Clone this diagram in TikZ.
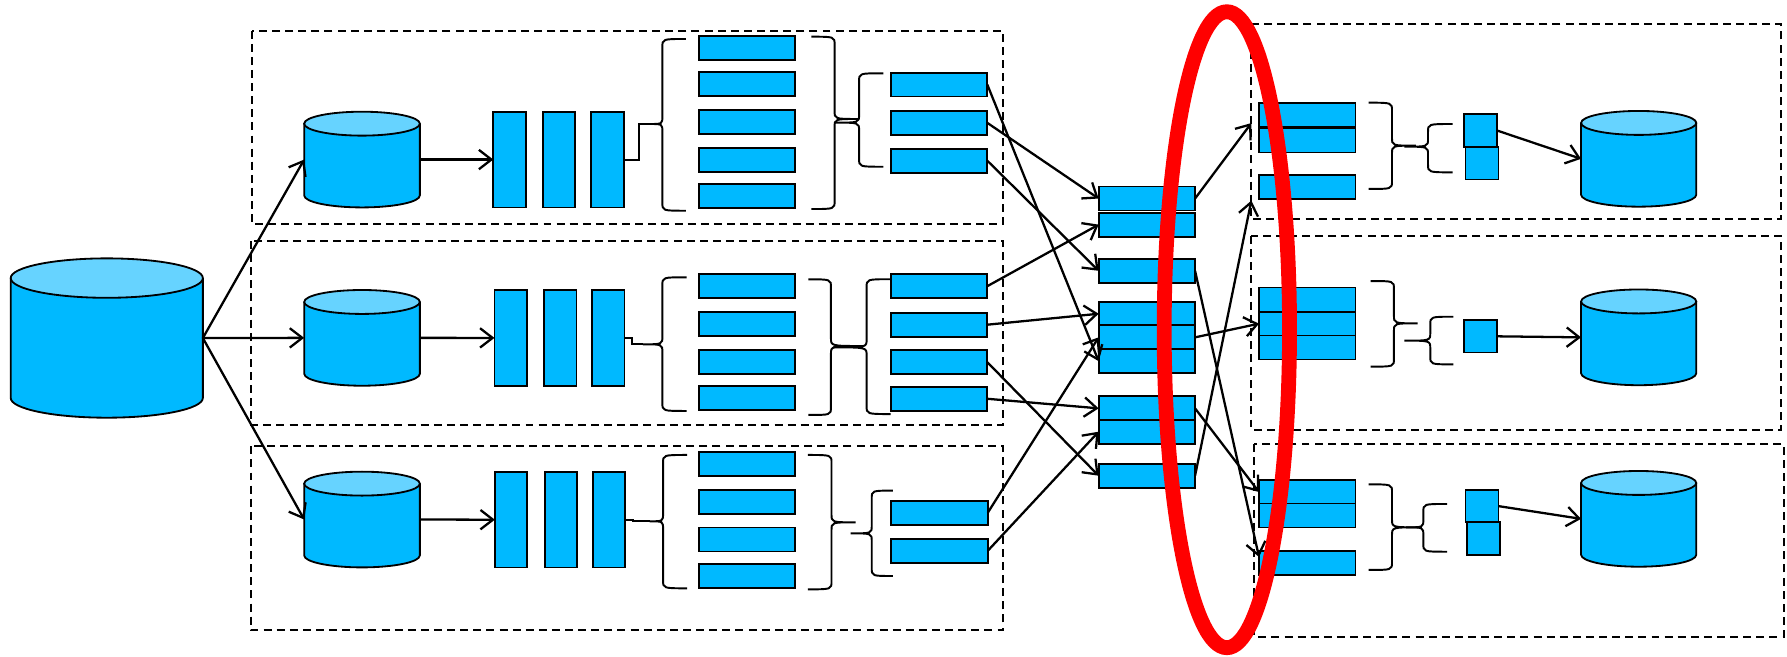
\documentclass[tikz,border=0pt]{standalone}
\usetikzlibrary{arrows.meta,calc}
\definecolor{boxc}{HTML}{00B9FF}
\definecolor{topc}{HTML}{66D3FF}
\definecolor{redc}{HTML}{FF0000}
\tikzset{
 blk/.style={draw=black, fill=boxc, line width=1.6pt, inner sep=0pt, outer sep=0pt, rectangle},
 hbox/.style={blk, minimum width=84.6pt, minimum height=21pt},
 vbar/.style={blk, minimum width=28.5pt, minimum height=84pt},
 sqr/.style={blk, minimum width=29pt, minimum height=28.5pt},
 frame/.style={draw=black, line width=1.6pt, dash pattern=on 7pt off 4.5pt},
 arr/.style={draw=black, line width=2pt, -{Straight Barb[length=11pt,width=17pt]}},
 conn/.style={draw=black, line width=1.8pt},
 brc/.style={draw=black, line width=1.7pt},
 cylspace/.style={rectangle, draw=none, inner sep=0pt, outer sep=0pt},
}
% name, cx, cy, rx, half height, ry
\newcommand\Cyl[6]{%
 \node[cylspace, minimum width={2*#4pt}, minimum height={2*#5pt}] (#1) at (#2,#3) {};
 \path[fill=boxc, draw=black, line width=1.6pt] ({#2-#4},{#3-#5+#6}) -- ({#2-#4},{#3+#5-#6})
   arc[start angle=180, end angle=360, x radius=#4pt, y radius=#6pt] -- ({#2+#4},{#3-#5+#6});
 \path[fill=topc, draw=black, line width=1.6pt] (#2,{#3-#5+#6}) ellipse[x radius=#4pt, y radius=#6pt];
}
% spine x, end x, top, bottom, tip x, tip y
\newcommand\Brc[6]{%
 \draw[brc] (#2,#3) .. controls (#1,#3) .. (#1,{#3+7}) -- (#1,{#6-7}) .. controls (#1,#6) .. (#5,#6)
   .. controls (#1,#6) .. (#1,{#6+7}) -- (#1,{#4-7}) .. controls (#1,#4) .. (#2,#4);
}
\begin{document}
\begin{tikzpicture}[x=1pt,y=-1pt]
\useasboundingbox (0,0) rectangle (1568,576);
% dashed frames
\draw[frame] (221.3,26.9) rectangle (880.1,196.8);
\draw[frame] (220,211.5) rectangle (880.1,372.9);
\draw[frame] (220,391.6) rectangle (880.1,552.8);
\draw[frame] (1097.9,21.4) rectangle (1563,192.2);
\draw[frame] (1097.9,207.1) rectangle (1563,377.3);
\draw[frame] (1100.6,389.6) rectangle (1565.3,558.6);

% cylinders
\Cyl{big}{93.7}{296.6}{84.3}{69.9}{17.3}
\Cyl{c1}{317.65}{140}{50.75}{42}{10.5}
\Cyl{c2}{317.65}{296.45}{50.75}{42}{10.5}
\Cyl{c3}{317.65}{455.85}{50.75}{42}{10.5}
\Cyl{d1}{1437.85}{139.35}{50.55}{42}{10.5}
\Cyl{d2}{1437.85}{296}{50.55}{42}{10.5}
\Cyl{d3}{1437.85}{455.25}{50.55}{42}{10.5}

% bars
\node[vbar] (r1b1) at (447.1,140) {};
\node[vbar] (r1b2) at (490.6,140) {};
\node[vbar] (r1b3) at (533.05,140) {};
\node[vbar] (r2b1) at (448.1,296.5) {};
\node[vbar] (r2b2) at (491.6,296.5) {};
\node[vbar] (r2b3) at (533.65,296.5) {};
\node[vbar] (r3b1) at (448.45,456) {};
\node[vbar] (r3b2) at (492.1,456) {};
\node[vbar] (r3b3) at (534.45,456) {};

% lists row 1
\node[hbox] (r1a1) at (655.4,42) {};
\node[hbox] (r1a2) at (655.4,73.5) {};
\node[hbox] (r1a3) at (655.4,107.2) {};
\node[hbox] (r1a4) at (655.4,140.3) {};
\node[hbox] (r1a5) at (655.4,171.9) {};
\node[hbox] (r1c1) at (824,74.2) {};
\node[hbox] (r1c2) at (824,107.8) {};
\node[hbox] (r1c3) at (824,141) {};
% lists row 2
\node[hbox] (r2a1) at (655.5,250.7) {};
\node[hbox] (r2a2) at (655.5,284.2) {};
\node[hbox] (r2a3) at (655.5,317.4) {};
\node[hbox] (r2a4) at (655.5,349.2) {};
\node[hbox] (r2c1) at (824,251.1) {};
\node[hbox] (r2c2) at (824,284.9) {};
\node[hbox] (r2c3) at (824,317.8) {};
\node[hbox] (r2c4) at (824,349.9) {};
% lists row 3
\node[hbox] (r3a1) at (655.4,406.9) {};
\node[hbox] (r3a2) at (655.4,440.5) {};
\node[hbox] (r3a3) at (655.4,473.4) {};
\node[hbox] (r3a4) at (655.4,505.4) {};
\node[hbox] (r3c1) at (824.4,449.9) {};
\node[hbox] (r3c2) at (824.4,483.3) {};

% middle column
\node[hbox] (mA1) at (1006.3,174.2) {};
\node[hbox] (mA2) at (1006.3,197.1) {};
\node[hbox] (mB) at (1006.3,237.6) {};
\node[hbox] (mC1) at (1006.3,275.3) {};
\node[hbox] (mC2) at (1006.3,296) {};
\node[hbox] (mC3) at (1006.3,316.9) {};
\node[hbox] (mD1) at (1006.3,358.3) {};
\node[hbox] (mD2) at (1006.3,378.8) {};
\node[hbox] (mE) at (1006.3,417.4) {};

% right column
\node[hbox] (q1a) at (1147,100.7) {};
\node[hbox] (q1b) at (1147,123.3) {};
\node[hbox] (q1c) at (1147,164) {};
\node[hbox] (q2a) at (1147,262.8) {};
\node[hbox] (q2b) at (1147,284) {};
\node[hbox] (q2c) at (1147,304.9) {};
\node[hbox] (q3a) at (1147,431.7) {};
\node[hbox] (q3b) at (1147,452.3) {};
\node[hbox] (q3c) at (1147,493.9) {};

% squares
\node[sqr] (s1a) at (1299,114.5) {};
\node[sqr] (s1b) at (1300.4,143.3) {};
\node[sqr] (s2a) at (1299,295.1) {};
\node[sqr] (s3a) at (1300.4,444.1) {};
\node[sqr] (s3b) at (1301.8,472.5) {};

% braces left
\coordinate (tL1) at (570,108.8);
\coordinate (tL2) at (564,302.1);
\coordinate (tL3) at (570,457.4);
\Brc{581.2}{601.9}{34.2}{184.9}{570}{108.8}
\Brc{732.3}{711.9}{32.2}{183.4}{753}{104.4}
\Brc{753.8}{775}{64.3}{146.3}{733}{107.6}
\Brc{581.2}{602.5}{243.3}{360.6}{564}{302.1}
\Brc{729.1}{709.3}{245.1}{364.1}{758}{303.6}
\Brc{760.4}{781.5}{245}{363.3}{731}{304.8}
\Brc{581.8}{603}{399.2}{516.2}{570}{457.4}
\Brc{729.6}{708.8}{399.2}{517.1}{750.7}{458.3}
\Brc{764.9}{783.4}{430.5}{505.4}{746.4}{468}
% braces right
\Brc{1221.4}{1200.9}{90.1}{165.8}{1242.3}{127.8}
\Brc{1253}{1274.5}{108.8}{151.2}{1232.2}{128.7}
\Brc{1223.1}{1202.6}{246.6}{321.7}{1243.9}{283.7}
\Brc{1255}{1275.2}{277.9}{319.7}{1232.2}{298.9}
\Brc{1221.4}{1200.9}{425}{500.1}{1245.6}{462.7}
\Brc{1248.9}{1269.8}{442.2}{484.1}{1233.8}{462.7}

% bar to brace connectors
\draw[conn] (r1b3.east) -- ++(13,0) |- (tL1);
\draw[conn] (r2b3.east) -- ++(7,0) |- (tL2);
\draw[conn] (r3b3.east) -- ++(7,0) |- (tL3);

% arrows left
\draw[arr] (big.east) -- (c1.west);
\draw[arr] (big.east) -- (c2.west);
\draw[arr] (big.east) -- (c3.west);
\draw[arr] (c1.east) -- (r1b1.west);
\draw[arr] (c2.east) -- (r2b1.west);
\draw[arr] (c3.east) -- (r3b1.west);

% list to middle
\draw[arr] (r1c1.east) -- (mC3.west);
\draw[arr] (r1c2.east) -- (mA1.west);
\draw[arr] (r1c3.east) -- (mB.west);
\draw[arr] (r2c1.east) -- (mA2.west);
\draw[arr] (r2c2.east) -- (mC1.west);
\draw[arr] (r2c3.east) -- (mE.west);
\draw[arr] (r2c4.east) -- (mD1.west);
\draw[arr] (r3c1.east) -- (mC2.west);
\draw[arr] (r3c2.east) -- (mD2.west);

% middle to right
\coordinate (inA) at (1098,108);
\coordinate (inB) at (1098,176);
\draw[arr] (mA1.east) -- (inA);
\draw[arr] (mE.east) -- (inB);
\draw[arr] (mC2.east) -- (q2b.west);
\draw[arr] (mB.east) -- (q3c.173);
\draw[arr] (mD1.east) -- (q3a.west);

% squares to cylinders
\draw[arr] (s1a.east) -- (d1.west);
\draw[arr] (s2a.east) -- (d2.west);
\draw[arr] (s3a.east) -- (d3.west);

% red ellipse
\draw[redc, line width=13pt] (1076.5,289.3) ellipse[x radius=55pt, y radius=279pt];
\end{tikzpicture}
\end{document}
